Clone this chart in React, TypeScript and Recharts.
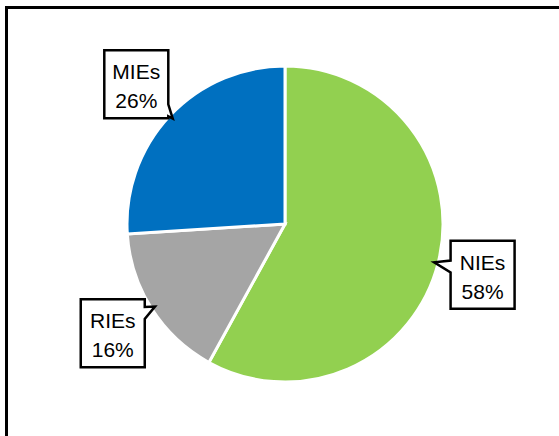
import React from "react";
import { PieChart, Pie, Cell } from "recharts";

const categories = ["NIEs", "RIEs", "MIEs"];
const shares = [58, 16, 26];
const colors = ["#92D050", "#A5A5A5", "#0070C0"];

const data = categories.map((name, i) => ({ name, value: shares[i] }));

const RADIAN = Math.PI / 180;

// Excel-like wedge callout: box with a pointer to the slice
const CalloutLabel = (props: any) => {
  const { cx, cy, midAngle, outerRadius, name, value } = props;
  const cos = Math.cos(-midAngle * RADIAN);
  const sin = Math.sin(-midAngle * RADIAN);
  const tx = cx + (outerRadius - 4) * cos;
  const ty = cy + (outerRadius - 4) * sin;
  const bx = cx + (outerRadius + 46) * cos;
  const by = cy + (outerRadius + 46) * sin;
  const hw = 32;
  const hh = 34;
  const l = bx - hw;
  const r = bx + hw;
  const t = by - hh;
  const b = by + hh;
  const dx = tx - bx;
  const dy = ty - by;
  const half = 6;
  const clamp = (v: number, lo: number, hi: number) => Math.max(lo, Math.min(hi, v));
  let d = "";
  if (Math.abs(dx) / hw > Math.abs(dy) / hh) {
    const py = clamp(by + (dy * hw) / Math.abs(dx), t + half + 2, b - half - 2);
    if (dx > 0) {
      d = `M${l},${t} L${r},${t} L${r},${py - half} L${tx},${ty} L${r},${py + half} L${r},${b} L${l},${b} Z`;
    } else {
      d = `M${l},${t} L${r},${t} L${r},${b} L${l},${b} L${l},${py + half} L${tx},${ty} L${l},${py - half} Z`;
    }
  } else {
    const px = clamp(bx + (dx * hh) / Math.abs(dy), l + half + 2, r - half - 2);
    if (dy > 0) {
      d = `M${l},${t} L${r},${t} L${r},${b} L${px + half},${b} L${tx},${ty} L${px - half},${b} L${l},${b} Z`;
    } else {
      d = `M${l},${t} L${px - half},${t} L${tx},${ty} L${px + half},${t} L${r},${t} L${r},${b} L${l},${b} Z`;
    }
  }
  return (
    <g>
      <path d={d} fill="#fff" stroke="#000" strokeWidth={2.5} strokeLinejoin="miter" />
      <text x={bx} y={by - 5} textAnchor="middle" fontSize={21} fill="#000" fontFamily="Liberation Sans, Arial, sans-serif">
        {name}
      </text>
      <text x={bx} y={by + 24} textAnchor="middle" fontSize={21} fill="#000" fontFamily="Liberation Sans, Arial, sans-serif">
        {value}%
      </text>
    </g>
  );
};

const App = () => {
  return (
    <div
      style={{
        position: "absolute",
        left: 0,
        top: 0,
        width: 559,
        height: 436,
        overflow: "hidden",
        background: "#fff",
      }}
    >
      <div
        style={{
          position: "absolute",
          left: 5,
          top: 6,
          width: 700,
          height: 600,
          border: "3px solid #000",
        }}
      />
      <div style={{ position: "absolute", left: 0, top: 0 }}>
        <PieChart width={559} height={436} margin={{ top: 0, right: 0, bottom: 0, left: 0 }}>
          <Pie
            data={data}
            dataKey="value"
            nameKey="name"
            cx={285}
            cy={224}
            outerRadius={158}
            startAngle={90}
            endAngle={-270}
            stroke="#fff"
            strokeWidth={3}
            label={CalloutLabel}
            labelLine={false}
            isAnimationActive={false}
          >
            {data.map((entry, index) => (
              <Cell key={entry.name} fill={colors[index]} />
            ))}
          </Pie>
        </PieChart>
      </div>
    </div>
  );
};

export default App;
